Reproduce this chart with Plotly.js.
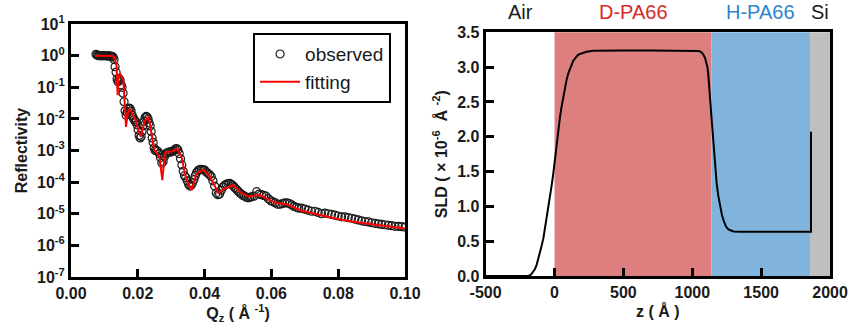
<!DOCTYPE html>
<html>
<head>
<meta charset="utf-8">
<script src="https://cdn.plot.ly/plotly-3.0.1.min.js"></script>
<style>
html,body{margin:0;padding:0;background:#fff;}
#chart{width:855px;height:325px;}
</style>
</head>
<body>
<div id="chart"></div>
<script>
// ---------- Reflectivity (left panel) ----------
const obsQ = [0.0075,0.0078,0.0081,0.0084,0.0087,0.0090,0.0093,0.0096,0.0099,0.0102,0.0105,0.0108,0.0111,0.0114,0.0117,0.0120,0.0123,0.0126,0.0129,0.0132,0.0135,0.0138,0.0141,0.0144,0.0147,0.0150,0.0153,0.0156,0.0159,0.0162,0.0165,0.0168,0.0171,0.0174,0.0177,0.0180,0.0183,0.0186,0.0189,0.0192,0.0195,0.0198,0.0201,0.0204,0.0207,0.0210,0.0213,0.0216,0.0219,0.0222,0.0225,0.0228,0.0231,0.0234,0.0237,0.0240,0.0243,0.0246,0.0249,0.0252,0.0256,0.0260,0.0264,0.0268,0.0272,0.0276,0.0280,0.0284,0.0288,0.0292,0.0296,0.0300,0.0304,0.0308,0.0312,0.0316,0.0320,0.0324,0.0328,0.0332,0.0336,0.0340,0.0344,0.0348,0.0352,0.0356,0.0360,0.0364,0.0368,0.0372,0.0376,0.0380,0.0385,0.0390,0.0395,0.0400,0.0405,0.0410,0.0415,0.0420,0.0425,0.0430,0.0435,0.0440,0.0445,0.0450,0.0455,0.0460,0.0465,0.0470,0.0475,0.0480,0.0485,0.0490,0.0495,0.0500,0.0505,0.0510,0.0515,0.0520,0.0525,0.0530,0.0535,0.0540,0.0548,0.0556,0.0563,0.0570,0.0577,0.0584,0.0591,0.0598,0.0605,0.0612,0.0619,0.0626,0.0633,0.0640,0.0647,0.0654,0.0661,0.0668,0.0675,0.0682,0.0690,0.0700,0.0710,0.0720,0.0730,0.0740,0.0750,0.0760,0.0770,0.0780,0.0790,0.0800,0.0810,0.0820,0.0830,0.0840,0.0850,0.0860,0.0870,0.0880,0.0890,0.0900,0.0910,0.0920,0.0930,0.0940,0.0950,0.0960,0.0970,0.0980,0.0990,0.1000];
const obsR = [1.10,1.05,1.02,1.00,1.00,1.00,1.00,1.00,1.00,1.00,1.00,0.99,0.98,0.98,0.97,0.96,0.95,0.90,0.75,0.45,0.30,0.18,0.15,0.19,0.17,0.12,0.10,0.065,0.035,0.018,0.013,0.016,0.020,0.022,0.021,0.018,0.013,0.011,0.0095,0.0085,0.0080,0.0065,0.0045,0.0030,0.0025,0.0028,0.0040,0.0060,0.0085,0.011,0.012,0.0115,0.010,0.0075,0.0060,0.0040,0.0025,0.0018,0.0012,0.00100,0.00100,0.00095,0.00080,0.00060,0.00040,0.00045,0.00065,0.00080,0.00085,0.00088,0.00090,0.00090,0.00095,0.00100,0.00110,0.00115,0.00105,0.00080,0.00055,0.00035,0.00022,0.00016,0.00014,0.00011,0.000085,0.000075,0.000080,0.000095,0.000120,0.000160,0.000200,0.000230,0.000250,0.000255,0.000250,0.000240,0.000210,0.000190,0.000170,0.000150,0.000110,0.000075,0.000045,0.000040,0.000042,0.000055,0.000070,0.000080,0.000085,0.000090,0.000092,0.000085,0.000078,0.000068,0.000060,0.000052,0.000046,0.000042,0.000038,0.000036,0.000033,0.000032,0.000033,0.000034,0.000036,0.000050,0.000042,0.000040,0.000038,0.000036,0.000030,0.000026,0.000024,0.000022,0.000020,0.000020,0.000021,0.000022,0.000022,0.000021,0.000019,0.000017,0.000016,0.000015,0.000015,0.000014,0.000013,0.000012,0.000012,0.000011,0.000010,0.0000105,0.0000100,0.0000095,0.0000090,0.0000085,0.0000080,0.0000080,0.0000075,0.0000072,0.0000068,0.0000064,0.0000060,0.0000057,0.0000055,0.0000052,0.0000050,0.0000048,0.0000046,0.0000045,0.0000043,0.0000042,0.0000040,0.0000040,0.0000039,0.0000038];

const fitQ = [0.0075,0.0125,0.0131,0.01367,0.01397,0.0142,0.01467,0.0152,0.01567,0.0162,0.01647,0.0170,0.01767,0.0185,0.01917,0.0200,0.0209,0.0220,0.0230,0.0236,0.0241,0.0249,0.0256,0.0265,0.02735,0.0281,0.0291,0.0305,0.0318,0.0331,0.0341,0.0352,0.0361,0.0376,0.0396,0.0416,0.0441,0.0461,0.0486,0.0506,0.0531,0.0566,0.0586,0.0616,0.0646,0.0686,0.0746,0.0806,0.0866,0.0926,0.1000];
const fitR = [1.0,0.98,0.85,0.45,0.056,0.20,0.275,0.22,0.17,0.02,0.0056,0.015,0.021,0.013,0.0105,0.005,0.0027,0.0080,0.0117,0.0075,0.0035,0.00102,0.00089,0.00060,0.000115,0.00081,0.00091,0.00095,0.00115,0.00063,0.00019,0.000080,0.000056,0.00019,0.00025,0.000148,0.000046,0.000063,0.000081,0.000049,0.000035,0.000039,0.000030,0.0000214,0.0000200,0.0000129,0.0000091,0.0000066,0.0000052,0.0000044,0.0000034];

const refTickVals = [1e-7,1e-6,1e-5,1e-4,1e-3,1e-2,1e-1,1,10];
const refTickText = ['10<sup>-7</sup>','10<sup>-6</sup>','10<sup>-5</sup>','10<sup>-4</sup>','10<sup>-3</sup>','10<sup>-2</sup>','10<sup>-1</sup>','10<sup>0</sup>','10<sup>1</sup>'];

// ---------- SLD profile (right panel) ----------
const sldZ = [-500,-190,-170,-154,-142,-130,-118,-106,-94,-81,-69,-57,-45,-33,-21,-9,3,15,28,40,52,64,76,88,100,112,124,136,155,173,200,233,280,354,500,700,900,1032,1050,1068,1080,1093,1102,1110,1117,1124,1132,1141,1150,1158,1167,1177,1189,1201,1215,1230,1245,1262,1280,1299,1350,1443,1600,1750,1862,1862];
const sld  = [0,0,0.02,0.06,0.10,0.16,0.24,0.33,0.43,0.54,0.68,0.83,0.98,1.14,1.30,1.47,1.69,1.91,2.10,2.29,2.44,2.58,2.71,2.82,2.91,2.98,3.04,3.09,3.14,3.18,3.20,3.22,3.235,3.24,3.24,3.24,3.24,3.24,3.23,3.21,3.18,3.13,3.07,3.0,2.87,2.72,2.48,2.24,2.00,1.76,1.54,1.33,1.15,1.0,0.88,0.78,0.71,0.67,0.65,0.64,0.635,0.635,0.635,0.635,0.635,2.07];

const layerNames  = ['Air','D-PA66','H-PA66','Si'];
const layerStart  = [-500,0,1140,1855];
const layerEnd    = [0,1140,1855,2000];
const layerFill   = ['rgba(0,0,0,0)','#DE7F7F','#80B4DC','#BFBFBF'];
const layerLabelColor = ['#1a1a1a','#D42A2A','#2E86D0','#1a1a1a'];

const zTickVals = [-500,0,500,1000,1500,2000];
const zTickText = ['-500','0','500','1000','1500','2000'];

const tickFont = {family:'Arial, Liberation Sans, sans-serif', size:16, color:'#1a1a1a', weight:'bold'};
const titleFont = {family:'Arial, Liberation Sans, sans-serif', size:16, color:'#1a1a1a', weight:'bold'};

const traces = [
  {x: obsQ, y: obsR, type:'scatter', mode:'markers', name:'observed',
   marker:{symbol:'circle-open', size:8, color:'#1a1a1a', line:{width:1.2, color:'#1a1a1a'}},
   xaxis:'x', yaxis:'y'},
  {x: fitQ, y: fitR, type:'scatter', mode:'lines', name:'fitting',
   line:{color:'#FF0000', width:2}, xaxis:'x', yaxis:'y'},
  {x: sldZ, y: sld, type:'scatter', mode:'lines', showlegend:false,
   line:{color:'#000000', width:2}, xaxis:'x2', yaxis:'y2'}
];

const shapes = [];
const annotations = [];
for (let i = 0; i < layerNames.length; i++) {
  if (i > 0) {
    shapes.push({type:'rect', xref:'x2', yref:'y2 domain', x0:layerStart[i], x1:layerEnd[i], y0:0, y1:1,
      fillcolor: layerFill[i], line:{width:0}, layer:'below'});
  }
  annotations.push({xref:'x2', yref:'paper', x:(layerStart[i]+layerEnd[i])/2, y:0.963,
    text: layerNames[i], showarrow:false, xanchor:'center', yanchor:'middle',
    font:{family:'Arial, Liberation Sans, sans-serif', size:20, color:layerLabelColor[i]}});
}

const axisCommon = {showline:true, linewidth:3, linecolor:'#000', mirror:true, ticks:'inside',
  ticklen:8, tickwidth:3, tickcolor:'#000', showgrid:false, zeroline:false, tickfont:tickFont};

const layout = {
  width:855, height:325, margin:{l:0,r:0,t:0,b:0},
  paper_bgcolor:'#fff', plot_bgcolor:'rgba(0,0,0,0)',
  showlegend:true,
  legend:{x:0.296, y:0.898, xanchor:'left', yanchor:'top', bgcolor:'#fff',
    bordercolor:'#000', borderwidth:2, itemwidth:40, tracegroupgap:4,
    font:{family:'Arial, Liberation Sans, sans-serif', size:19, color:'#1a1a1a'}},
  xaxis: Object.assign({}, axisCommon, {domain:[0.083,0.4737], range:[0,0.1], dtick:0.02, tick0:0,
    tickformat:'.2f', anchor:'y',
    title:{text:'<b>Q<sub>z</sub> ( Å <sup>-1</sup>)</b>', font:titleFont, standoff:6}}),
  yaxis: Object.assign({}, axisCommon, {domain:[0.1477,0.926], type:'log', range:[-7,1],
    tickvals:refTickVals, ticktext:refTickText, anchor:'x',
    title:{text:'<b>Reflectivity</b>', font:titleFont, standoff:6}}),
  xaxis2: Object.assign({}, axisCommon, {domain:[0.568,0.9708], range:[-500,2000],
    tickvals:zTickVals, ticktext:zTickText, anchor:'y2',
    title:{text:'<b>z ( Å )</b>', font:titleFont, standoff:6}}),
  yaxis2: Object.assign({}, axisCommon, {domain:[0.1508,0.9006], range:[0,3.5], dtick:0.5, tick0:0,
    tickformat:'.1f', anchor:'x2',
    title:{text:'<b>SLD ( × 10<sup>-6</sup>  Å <sup>-2</sup>)</b>', font:titleFont, standoff:6}}),
  shapes: shapes,
  annotations: annotations
};

Plotly.newPlot('chart', traces, layout, {displayModeBar:false, staticPlot:true});
</script>
</body>
</html>
